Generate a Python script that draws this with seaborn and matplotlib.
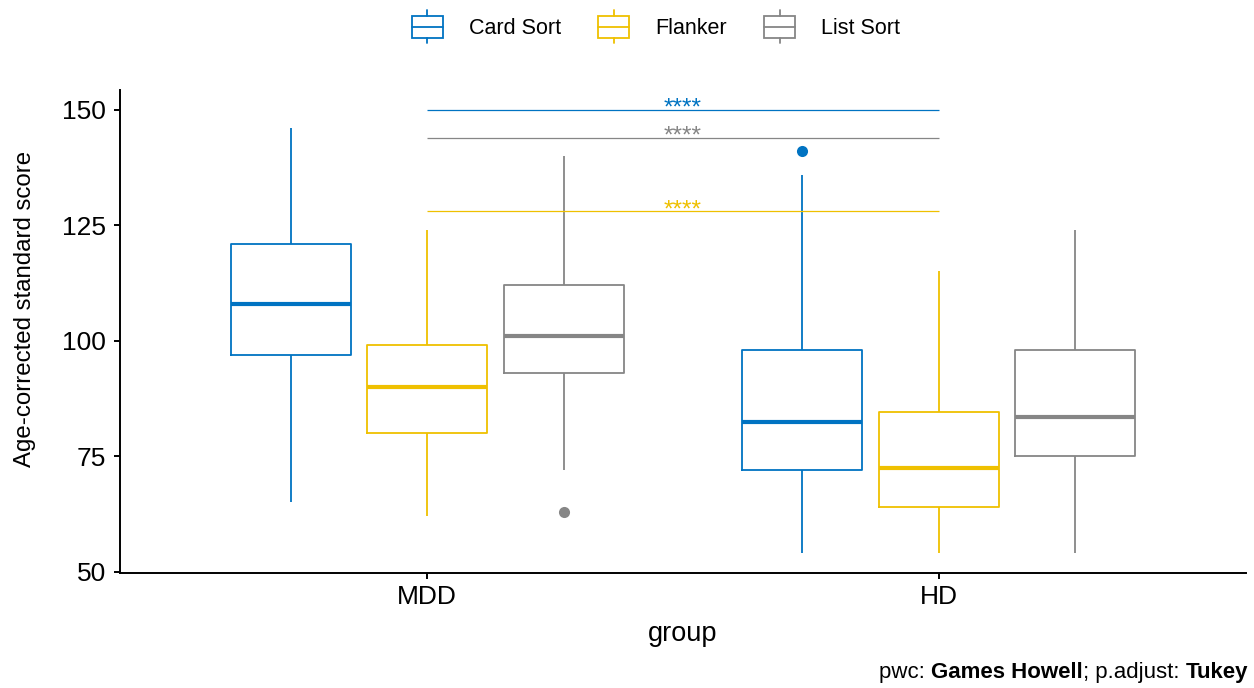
import matplotlib
matplotlib.use("Agg")
import matplotlib.pyplot as plt
import numpy as np
import pandas as pd
import seaborn as sns
from matplotlib.patches import Rectangle
from matplotlib.lines import Line2D
from matplotlib.legend_handler import HandlerBase

# ---- data -------------------------------------------------------------
groups = ["MDD", "HD"]
tests = ["Card Sort", "Flanker", "List Sort"]
colors = ["#0073C2", "#EFC000", "#868686"]

# box summaries: lower whisker, Q1, median, Q3, upper whisker
mdd_card = [65, 97, 108, 121, 146]
mdd_flanker = [62, 80, 90, 99, 124]
mdd_list = [72, 93, 101, 112, 140]
hd_card = [54, 72, 82.5, 98, 136]
hd_flanker = [54, 64, 72.5, 84.5, 115]
hd_list = [54, 75, 83.5, 98, 124]

# points beyond the whiskers
mdd_list_outliers = [63]
hd_card_outliers = [141]

# Games-Howell comparisons MDD vs HD within each test
bracket_tests = ["Card Sort", "List Sort", "Flanker"]
bracket_y = [150, 144, 128]
bracket_labels = ["****", "****", "****"]

summaries = {
    ("MDD", "Card Sort"): (mdd_card, []),
    ("MDD", "Flanker"): (mdd_flanker, []),
    ("MDD", "List Sort"): (mdd_list, mdd_list_outliers),
    ("HD", "Card Sort"): (hd_card, hd_card_outliers),
    ("HD", "Flanker"): (hd_flanker, []),
    ("HD", "List Sort"): (hd_list, []),
}

# long table whose quartiles / whisker ends reproduce each summary
rows = []
for (g, t), ((lo, q1, med, q3, hi), outs) in summaries.items():
    vals = [lo, lo, q1, q1, med, q3, q3, hi, hi]
    for o in outs:
        if o < lo:
            vals[0] = o
        else:
            vals[-1] = o
    rows += [(g, t, v) for v in vals]
df = pd.DataFrame(rows, columns=["group", "test", "score"])

# ---- figure -----------------------------------------------------------
sns.set_theme(style="ticks")
plt.rcParams["font.family"] = ["Liberation Sans", "DejaVu Sans"]
plt.rcParams["text.color"] = "black"
plt.rcParams["axes.labelcolor"] = "black"
plt.rcParams["xtick.color"] = "black"
plt.rcParams["ytick.color"] = "black"

W, H = 1254, 688
fig = plt.figure(figsize=(W / 100, H / 100), dpi=100)
ax = fig.add_axes([120 / W, 115 / H, 1126 / W, 483 / H])

sns.boxplot(
    data=df, x="group", y="score", hue="test",
    order=groups, hue_order=tests, palette=colors,
    fill=False, width=0.8, gap=0.12, linewidth=1.3,
    showcaps=False, whis=1.5,
    medianprops=dict(linewidth=3),
    flierprops=dict(marker="o", markersize=8),
    legend=False, ax=ax,
)

# solid outlier dots
for ln in ax.lines:
    if ln.get_marker() == "o":
        ln.set_markerfacecolor(ln.get_markeredgecolor())
        ln.set_markeredgewidth(0)

# significance brackets
col_of = dict(zip(tests, colors))
for t, y, lab in zip(bracket_tests, bracket_y, bracket_labels):
    c = col_of[t]
    ax.plot([0, 1], [y, y], color=c, lw=0.9, solid_capstyle="butt")
    ax.text(0.5, y - 1.0, lab, color=c, ha="center", va="baseline", fontsize=17.5)

ax.set_xlim(-0.6, 1.6)
ax.set_ylim(49.7, 154.3)
ax.set_yticks([50, 75, 100, 125, 150])
sns.despine(ax=ax)
for s in ("left", "bottom"):
    ax.spines[s].set_linewidth(1.4)
    ax.spines[s].set_color("black")
ax.tick_params(axis="both", length=4, width=1.4, colors="black",
               labelcolor="black", labelsize=19)
ax.tick_params(axis="y", pad=6)
ax.tick_params(axis="x", pad=5)

ax.set_xlabel("group", fontsize=19.5, color="black")
ax.set_ylabel("Age-corrected standard score", fontsize=17.3, color="black")
ax.xaxis.set_label_coords(0.5, -0.1)
ax.yaxis.set_label_coords(-0.075, 0.547)


# legend keys drawn as little boxplots
class BoxKey(HandlerBase):
    def create_artists(self, legend, orig_handle, xdescent, ydescent,
                       width, height, fontsize, trans):
        c = orig_handle.get_edgecolor()
        cx = -xdescent + width / 2
        cy = -ydescent + height / 2
        bh = 15.8
        ext = 4.2
        rect = Rectangle((cx - width / 2, cy - bh / 2), width, bh,
                         fill=False, ec=c, lw=1.3, transform=trans)
        med = Line2D([cx - width / 2, cx + width / 2], [cy, cy], color=c, lw=1.3, transform=trans)
        top = Line2D([cx, cx], [cy + bh / 2, cy + bh / 2 + ext], color=c, lw=1.3, transform=trans)
        bot = Line2D([cx, cx], [cy - bh / 2, cy - bh / 2 - ext], color=c, lw=1.3, transform=trans)
        return [rect, med, top, bot]


handles = [Rectangle((0, 0), 1, 1, fill=False, edgecolor=c) for c in colors]
leg = fig.legend(
    handles, tests, handler_map={Rectangle: BoxKey()},
    loc="center", bbox_to_anchor=(656 / W, 1 - 28 / H), ncol=3,
    frameon=False, fontsize=15.5, handlelength=1.44, handleheight=1.0,
    handletextpad=1.2, columnspacing=1.75, borderpad=0, borderaxespad=0,
)
for tx in leg.get_texts():
    tx.set_color("black")

# caption with bold method names
pieces = [("pwc: ", "normal"), ("Games Howell", "bold"),
          ("; p.adjust: ", "normal"), ("Tukey", "bold")]
renderer = fig.canvas.get_renderer()
texts = []
for s, wgt in pieces:
    tx = fig.text(0, 0, s, fontsize=16, fontweight=wgt, ha="left",
                  va="baseline", color="black")
    texts.append(tx)
widths = [tx.get_window_extent(renderer).width for tx in texts]
x = 1248 - sum(widths)
for tx, w in zip(texts, widths):
    tx.set_position((x / W, 1 - 678 / H))
    x += w

fig.savefig("out.png", dpi=100)
